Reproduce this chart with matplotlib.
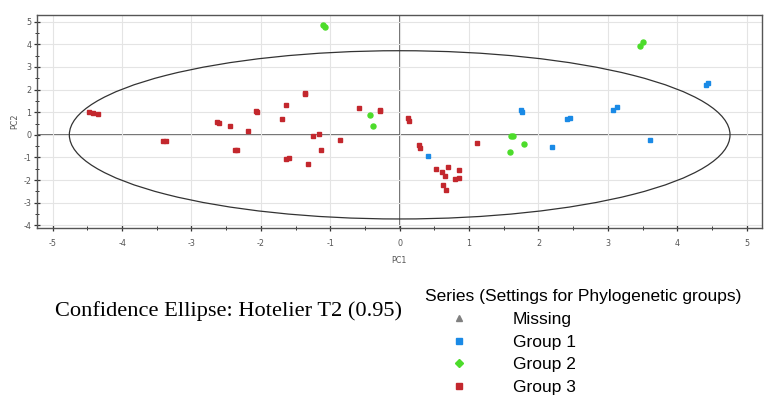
import numpy as np
import matplotlib
matplotlib.use('Agg')
from matplotlib import pyplot as plt
from matplotlib.patches import Ellipse
from matplotlib.lines import Line2D

plt.rcParams['axes.unicode_minus'] = False

# PC scores
g1_x = [0.41, 1.75, 1.76, 2.20, 2.41, 2.45, 3.07, 3.13, 3.61, 4.41, 4.44]
g1_y = [-0.93, 1.11, 1.03, -0.53, 0.72, 0.76, 1.11, 1.23, -0.24, 2.21, 2.29]

g2_x = [-1.10, -1.08, -0.43, -0.39, 1.61, 1.64, 1.79, 1.59, 3.46, 3.50]
g2_y = [4.84, 4.75, 0.88, 0.40, -0.07, -0.04, -0.40, -0.77, 3.91, 4.10]

g3_x = [-4.48, -4.42, -4.34, -3.41, -3.37, -2.63, -2.60, -2.45, -2.38, -2.35,
        -2.19, -2.07, -2.05, -1.69, -1.64, -1.37, -1.36, -1.64, -1.59, -1.32,
        -1.25, -1.16, -1.13, -0.86, -0.58, -0.29, -0.28, 0.12, 0.14, 0.28,
        0.29, 1.12, 0.53, 0.61, 0.65, 0.69, 0.86, 0.79, 0.86, 0.62, 0.67]
g3_y = [0.99, 0.96, 0.92, -0.27, -0.29, 0.56, 0.53, 0.40, -0.69, -0.69,
        0.18, 1.05, 1.02, 0.72, 1.33, 1.86, 1.81, -1.06, -1.03, -1.31,
        -0.04, 0.04, -0.69, -0.25, 1.19, 1.09, 1.06, 0.74, 0.59, -0.47,
        -0.59, -0.34, -1.50, -1.65, -1.81, -1.43, -1.56, -1.96, -1.89, -2.21,
        -2.43]

ellipse_w = 4.76
ellipse_h = 3.72

series_labels = ['Missing', 'Group 1', 'Group 2', 'Group 3']

c_blue = '#1a8ae6'
c_green = '#4cdc2a'
c_red = '#c3272d'
c_gray = '#808080'

fig = plt.figure(figsize=(7.65, 4.05), dpi=100)
ax = fig.add_axes([0.048, 0.437, 0.948, 0.526])

ax.grid(True, color='#e4e4e4', linewidth=0.8, zorder=0)
ax.axhline(0, color='#555555', linewidth=1.2, zorder=1)
ax.axvline(0, color='#555555', linewidth=1.2, zorder=1)

ax.add_patch(Ellipse((0, 0), 2 * ellipse_w, 2 * ellipse_h, fill=False,
                     edgecolor='#333333', linewidth=0.9, zorder=2))

ax.plot(g3_x, g3_y, 's', color=c_red, markersize=3.3, zorder=3)
ax.plot(g1_x, g1_y, 's', color=c_blue, markersize=3.3, zorder=3)
ax.plot(g2_x, g2_y, 'o', color=c_green, markersize=3.6, zorder=3)

ax.set_xlim(-5.23, 5.22)
ax.set_ylim(-4.12, 5.3)
ax.set_xticks(np.arange(-5, 6))
ax.set_yticks(np.arange(-4, 6))
ax.set_xticks(np.arange(-5, 5.5, 0.5), minor=True)
ax.set_yticks(np.arange(-4, 5.5, 0.5), minor=True)
ax.tick_params(which='both', direction='inout', color='#333333',
               labelsize=5.8, labelcolor='#555555')
ax.tick_params(axis='x', pad=6)
ax.tick_params(axis='y', pad=2)
ax.tick_params(which='major', length=4, width=0.9)
ax.tick_params(which='minor', length=2.5, width=0.7)
for s in ax.spines.values():
    s.set_color('#555555')
    s.set_linewidth(1.0)

ax.set_xlabel('PC1', fontsize=5.8, color='#555555', labelpad=6)
ax.set_ylabel('PC2', fontsize=5.8, color='#555555', labelpad=3)

fig.text(0.072, 0.232, 'Confidence Ellipse: Hotelier T2 (0.95)',
         fontsize=16.1, family=['Liberation Serif', 'DejaVu Serif'],
         va='center', ha='left')

handles = [
    Line2D([], [], linestyle='', marker='^', color=c_gray, markersize=4),
    Line2D([], [], linestyle='', marker='s', color=c_blue, markersize=4),
    Line2D([], [], linestyle='', marker='D', color=c_green, markersize=4),
    Line2D([], [], linestyle='', marker='s', color=c_red, markersize=4),
]
leg = fig.legend(handles, series_labels,
                 title='Series (Settings for Phylogenetic groups)',
                 loc='upper left', bbox_to_anchor=(0.544, 0.307),
                 frameon=False, title_fontsize=12.5,
                 prop={'family': 'Liberation Sans', 'size': 12.5},
                 handletextpad=1.17, labelspacing=0.43, borderpad=0,
                 handlelength=3.88)
leg.get_title().set_family('Liberation Sans')
leg._legend_box.align = 'left'

fig.savefig('out.png', dpi=100)
